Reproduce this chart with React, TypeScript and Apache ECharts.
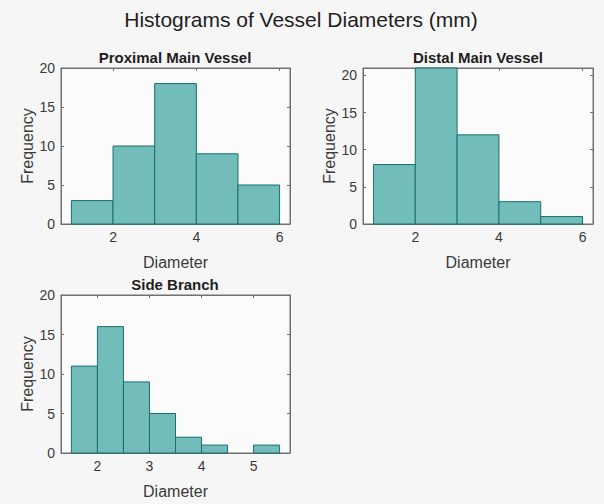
import React, { useEffect, useRef } from "react";
import * as echarts from "echarts";

// Bin edges (mm) and counts for each vessel segment
const proximalEdges = [1, 2, 3, 4, 5, 6];
const proximalCounts = [3, 10, 18, 9, 5];

const distalEdges = [1, 2, 3, 4, 5, 6];
const distalCounts = [8, 21, 12, 3, 1];

const sideEdges = [1.5, 2, 2.5, 3, 3.5, 4, 4.5, 5, 5.5];
const sideCounts = [11, 16, 9, 5, 2, 1, 0, 1];

const proximalXTicks = [2, 4, 6];
const distalXTicks = [2, 4, 6];
const sideXTicks = [2, 3, 4, 5];
const yTicks = [0, 5, 10, 15, 20];

const mainTitle = "Histograms of Vessel Diameters (mm)";
const panelTitles = ["Proximal Main Vessel", "Distal Main Vessel", "Side Branch"];
const xName = "Diameter";
const yName = "Frequency";

const FONT = "'Liberation Sans', Arial, Helvetica, sans-serif";
const BAR_FILL = "#72bdba";
const BAR_EDGE = "#17706e";
const AXIS_COLOR = "#707070";
const LABEL_COLOR = "#3a3a3a";

function binRows(edges: number[], counts: number[]) {
  return counts.map((c, i) => [edges[i], edges[i + 1], c]);
}

export default function App() {
  const ref = useRef<HTMLDivElement>(null);

  useEffect(() => {
    document.body.style.margin = "0";
    const chart = echarts.init(ref.current!, null, { renderer: "svg" });

    const panels = [
      {
        grid: { left: 61, top: 68, width: 229, height: 156 },
        xMin: 0.75, xMax: 6.25, yMax: 20, yGap: 26,
        xTicks: proximalXTicks, rows: binRows(proximalEdges, proximalCounts),
      },
      {
        grid: { left: 363, top: 68, width: 230, height: 156 },
        xMin: 0.75, xMax: 6.25, yMax: 21, yGap: 23,
        xTicks: distalXTicks, rows: binRows(distalEdges, distalCounts),
      },
      {
        grid: { left: 61, top: 295, width: 229, height: 158 },
        xMin: 1.3, xMax: 5.7, yMax: 20, yGap: 26,
        xTicks: sideXTicks, rows: binRows(sideEdges, sideCounts),
      },
    ];

    const grids: any[] = [];
    const xAxes: any[] = [];
    const yAxes: any[] = [];
    const series: any[] = [];

    panels.forEach((p, i) => {
      grids.push({
        ...p.grid,
        show: true,
        backgroundColor: "#fbfbfb",
        borderColor: AXIS_COLOR,
        borderWidth: 1,
      });
      const tick = { show: true, inside: true, length: 3, lineStyle: { color: AXIS_COLOR } };
      // bottom axis with labels
      xAxes.push({
        type: "value", gridIndex: i, min: p.xMin, max: p.xMax, position: "bottom",
        axisLine: { show: true, onZero: false, lineStyle: { color: AXIS_COLOR } },
        axisTick: { ...tick, customValues: p.xTicks },
        axisLabel: { customValues: p.xTicks, color: LABEL_COLOR, fontFamily: FONT, fontSize: 14, margin: 6 },
        splitLine: { show: false },
        name: xName, nameLocation: "middle", nameGap: 30,
        nameTextStyle: { color: LABEL_COLOR, fontFamily: FONT, fontSize: 16 },
      });
      // top mirror axis (ticks only)
      xAxes.push({
        type: "value", gridIndex: i, min: p.xMin, max: p.xMax, position: "top",
        axisLine: { show: true, onZero: false, lineStyle: { color: AXIS_COLOR } },
        axisTick: { ...tick, customValues: p.xTicks },
        axisLabel: { show: false },
        splitLine: { show: false },
      });
      yAxes.push({
        type: "value", gridIndex: i, min: 0, max: p.yMax, position: "left",
        axisLine: { show: true, onZero: false, lineStyle: { color: AXIS_COLOR } },
        axisTick: { ...tick, customValues: yTicks },
        axisLabel: { customValues: yTicks, color: LABEL_COLOR, fontFamily: FONT, fontSize: 14, margin: 6 },
        splitLine: { show: false },
        name: yName, nameLocation: "middle", nameGap: p.yGap,
        nameTextStyle: { color: LABEL_COLOR, fontFamily: FONT, fontSize: 16 },
      });
      yAxes.push({
        type: "value", gridIndex: i, min: 0, max: p.yMax, position: "right",
        axisLine: { show: true, onZero: false, lineStyle: { color: AXIS_COLOR } },
        axisTick: { ...tick, customValues: yTicks },
        axisLabel: { show: false },
        splitLine: { show: false },
      });
      series.push({
        type: "custom",
        xAxisIndex: i * 2,
        yAxisIndex: i * 2,
        data: p.rows,
        encode: { x: [0, 1], y: 2 },
        renderItem: (_params: any, api: any) => {
          const x0 = api.value(0);
          const x1 = api.value(1);
          const c = api.value(2);
          // empty bins leave only the baseline
          if (!c) return null;
          const a = api.coord([x0, c]);
          const b = api.coord([x1, 0]);
          return {
            type: "rect",
            shape: { x: a[0], y: a[1], width: b[0] - a[0], height: b[1] - a[1] },
            style: { fill: BAR_FILL, stroke: BAR_EDGE, lineWidth: 1 },
          };
        },
      });
    });

    const titleText = (text: string, x: number, y: number, size: number, weight: string) => ({
      type: "text",
      x, y,
      style: {
        text,
        font: `${weight} ${size}px ${FONT}`,
        fill: "#1e1e1e",
        textAlign: "center",
        textVerticalAlign: "middle",
      },
    });

    chart.setOption({
      animation: false,
      backgroundColor: "#f6f6f6",
      grid: grids,
      xAxis: xAxes,
      yAxis: yAxes,
      series,
      graphic: [
        titleText(mainTitle, 301, 19, 21, "normal"),
        titleText(panelTitles[0], 175, 57, 15, "bold"),
        titleText(panelTitles[1], 478, 57, 15, "bold"),
        titleText(panelTitles[2], 175, 284, 15, "bold"),
      ],
    });

    return () => chart.dispose();
  }, []);

  return <div ref={ref} style={{ width: 604, height: 504 }} />;
}
